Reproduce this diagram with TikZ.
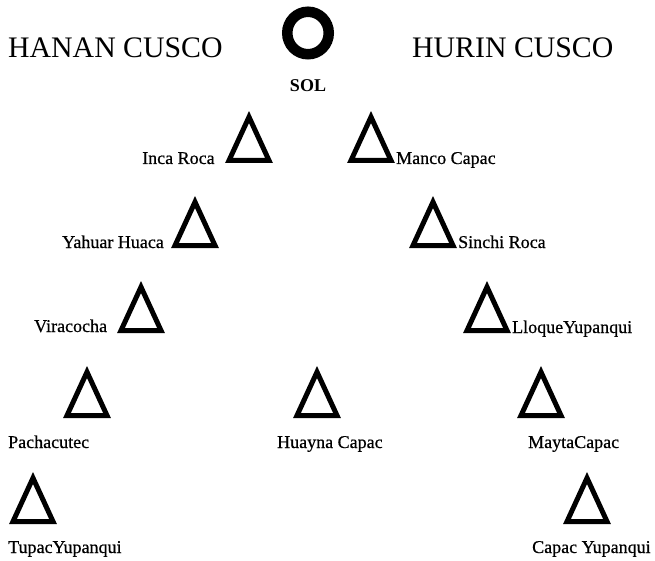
\documentclass[tikz,border=0pt]{standalone}
\usepackage{fontspec}
\setmainfont{Liberation Serif}
\newfontfamily\lblfont[FakeBold=0.6]{Liberation Serif}
\newcommand\inkatri[2]{%
  \draw[tri] (#1,#2+6) -- (#1+20,#2+49.5) -- (#1-20,#2+49.5) -- cycle;}
\begin{document}
\begin{tikzpicture}[x=1pt,y=-1pt,
  tri/.style={line width=5pt,line join=miter,black},
  moiety/.style={anchor=base west,inner sep=0pt,font=\fontsize{29.8}{32}\selectfont},
  lbl/.style={anchor=base west,inner sep=0pt,font=\lblfont\fontsize{18}{20}\selectfont},
  sun/.style={line width=10.5pt,black}]
\useasboundingbox (0,0) rectangle (655,561);
% headings
\node[moiety] (hanan) at (8,58) {HANAN CUSCO};
\node[moiety] (hurin) at (412,58) {HURIN CUSCO};
% sun
\draw[sun] (308,33) ellipse [x radius=20.75, y radius=21.25];
\node[anchor=base,inner sep=0pt,font=\fontsize{18}{20}\selectfont\bfseries] (sol) at (308,92) {SOL};
% triangles
\inkatri{249}{111}
\inkatri{371}{111}
\inkatri{195}{196}
\inkatri{433}{196}
\inkatri{141}{281}
\inkatri{487}{281}
\inkatri{87}{366}
\inkatri{317}{366}
\inkatri{541}{366}
\inkatri{33}{472}
\inkatri{587}{472}
% labels
\node[lbl] (incaroca) at (142,164) {Inca Roca};
\node[lbl] (manco) at (396,164) {Manco Capac};
\node[lbl] (yahuar) at (62,248) {Yahuar Huaca};
\node[lbl] (sinchi) at (458,248) {Sinchi Roca};
\node[lbl] (viracocha) at (34,332) {Viracocha};
\node[lbl] (lloque) at (512,333) {LloqueYupanqui};
\node[lbl] (pacha) at (8,448) {Pachacutec};
\node[lbl] (huayna) at (277,448) {Huayna Capac};
\node[lbl] (mayta) at (528,448) {MaytaCapac};
\node[lbl] (tupac) at (8,553) {TupacYupanqui};
\node[lbl] (capac) at (532,553) {Capac Yupanqui};
\end{tikzpicture}
\end{document}
